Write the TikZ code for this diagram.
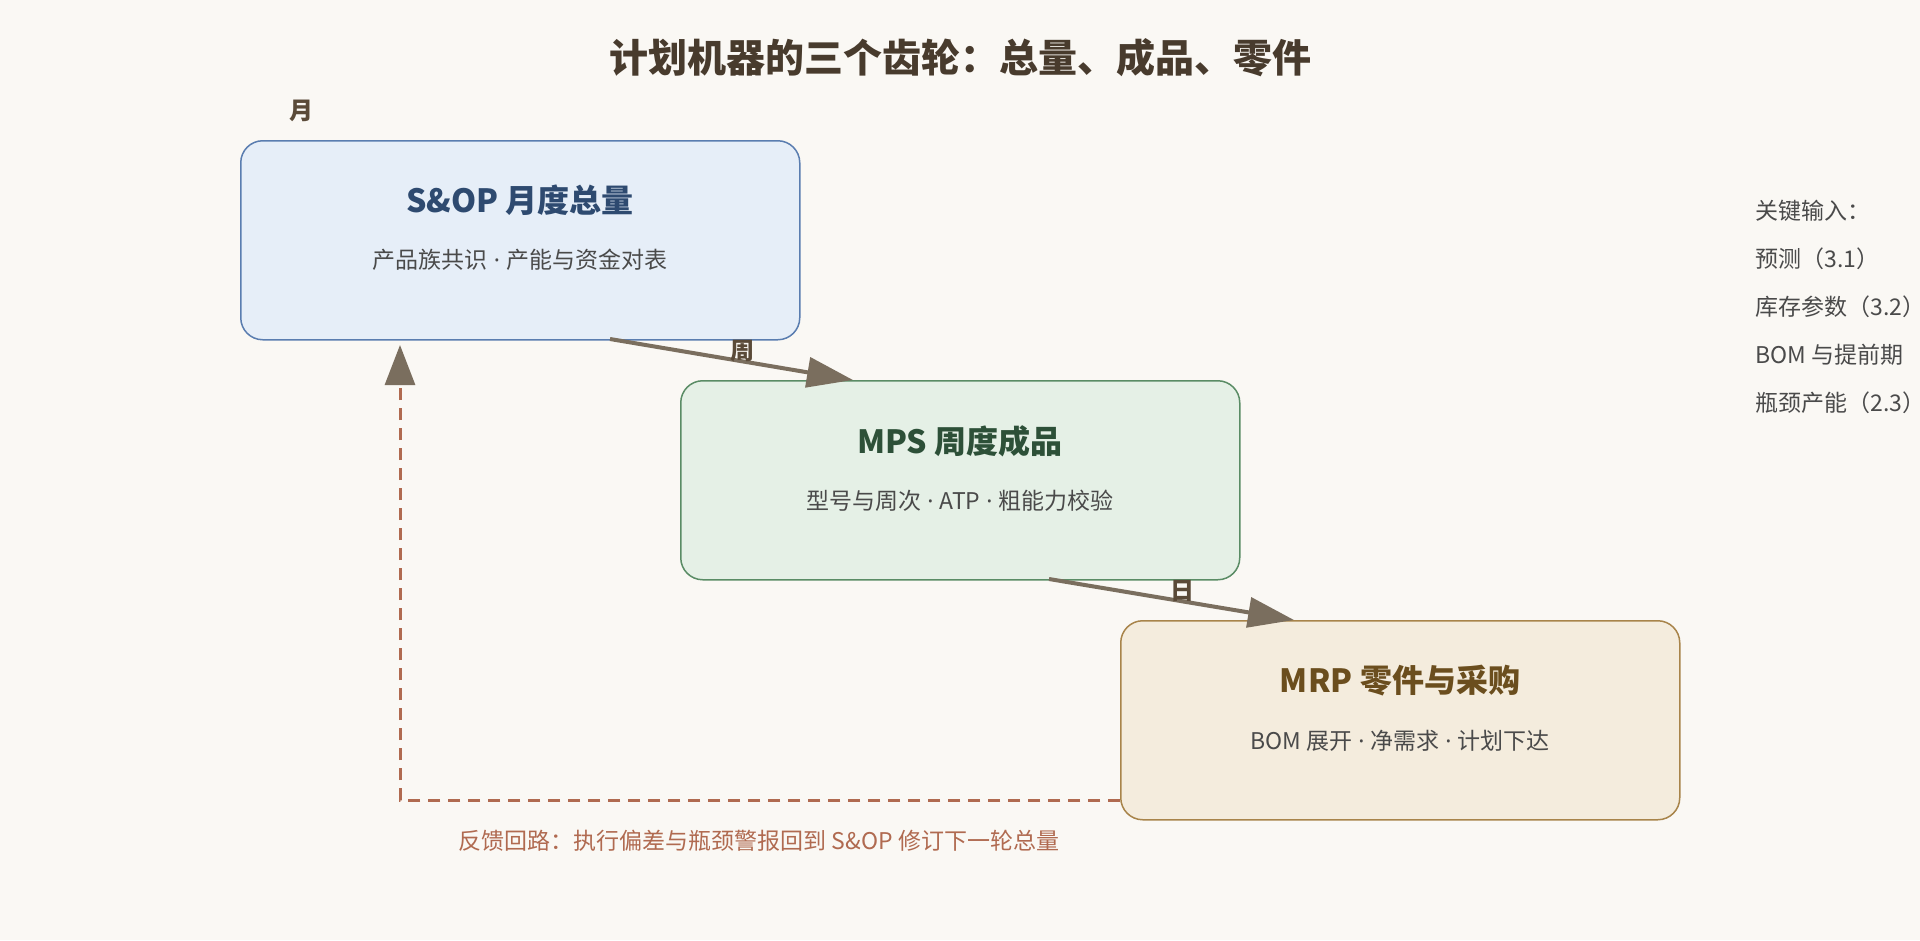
\documentclass[tikz,border=0pt]{standalone}
\usepackage{fontspec}
\setmainfont{Noto Sans CJK SC}
\newfontfamily\lat{Noto Sans}
\newcommand{\dt}{{\lat\ ·\ }}
\usetikzlibrary{arrows.meta}
\definecolor{bg}{HTML}{FAF8F4}
\definecolor{fa}{HTML}{E6EEF8}\definecolor{sa}{HTML}{5A7DB0}\definecolor{ta}{HTML}{2E4A70}
\definecolor{fb}{HTML}{E5F0E6}\definecolor{sb}{HTML}{5A8C65}\definecolor{tb}{HTML}{2D5038}
\definecolor{fc}{HTML}{F4ECDD}\definecolor{sc}{HTML}{A8844A}\definecolor{tc}{HTML}{6B4E1E}
\definecolor{arr}{HTML}{7A6E5E}\definecolor{fbk}{HTML}{B06A50}\definecolor{txt}{HTML}{4A4A4A}
\definecolor{lab}{HTML}{5A4A38}
\begin{document}
\begin{tikzpicture}[x=1pt,y=-1pt,
  box/.style={draw,line width=1.5pt,rounded corners=22pt,minimum width=559pt,minimum height=199pt,anchor=north west},
  ttl/.style={font=\fontsize{32}{36}\selectfont\bfseries},
  sub/.style={font=\fontsize{23}{27}\selectfont,text=txt},
  flow/.style={draw=arr,line width=4pt,-{Triangle[length=46pt,width=30pt]}},
  per/.style={font=\fontsize{24}{28}\selectfont\bfseries,text=lab},
  side/.style={font=\fontsize{23}{27}\selectfont,text=txt,anchor=west}]
\clip (0,0) rectangle (1920,940);
\fill[bg] (0,0) rectangle (1920,940);
\node[font=\fontsize{39}{44}\selectfont\bfseries,text=lab!80!black] (title) at (960,58) {计划机器的三个齿轮：总量、成品、零件};
\node[per] (m) at (301,111) {月};
\node[box,fill=fa,draw=sa] (A) at (240,140) {};
\node[ttl,text=ta] (At) at (520,200) {S\&OP 月度总量};
\node[sub] (As) at (520,260) {产品族共识\dt 产能与资金对表};
\node[box,fill=fb,draw=sb] (B) at (680,380) {};
\node[ttl,text=tb] (Bt) at (960,441) {MPS 周度成品};
\node[sub] (Bs) at (960,501) {型号与周次\dt ATP\dt 粗能力校验};
\node[box,fill=fc,draw=sc] (C) at (1120,620) {};
\node[ttl,text=tc] (Ct) at (1400,681) {MRP 零件与采购};
\node[sub] (Cs) at (1400,741) {BOM 展开\dt 净需求\dt 计划下达};
\coordinate (a1) at (610,339); \coordinate (a2) at (853,380);
\coordinate (b1) at (1049,579); \coordinate (b2) at (1294,620);
\draw[flow] (a1) -- (a2);
\draw[flow] (b1) -- (b2);
\node[per] (w) at (742,351) {周};
\node[per] (d) at (1182,591) {日};
\coordinate (f1) at (1120,800); \coordinate (f2) at (400,800); \coordinate (f3) at (400,345);
\draw[draw=fbk,line width=3pt,dash pattern=on 12pt off 8pt,-{Triangle[length=40pt,width=30pt,color=arr]}] (f1) -- (f2) -- (f3);
\node[font=\fontsize{23}{27}\selectfont,text=fbk] (fl) at (759,841) {反馈回路：执行偏差与瓶颈警报回到 S\&OP 修订下一轮总量};
\node[side] (k0) at (1752,211) {关键输入：};
\node[side] (k1) at (1752,259) {预测（3.1）};
\node[side] (k2) at (1752,307) {库存参数（3.2）};
\node[side] (k3) at (1752,355) {BOM 与提前期};
\node[side] (k4) at (1752,403) {瓶颈产能（2.3）};
\end{tikzpicture}
\end{document}
